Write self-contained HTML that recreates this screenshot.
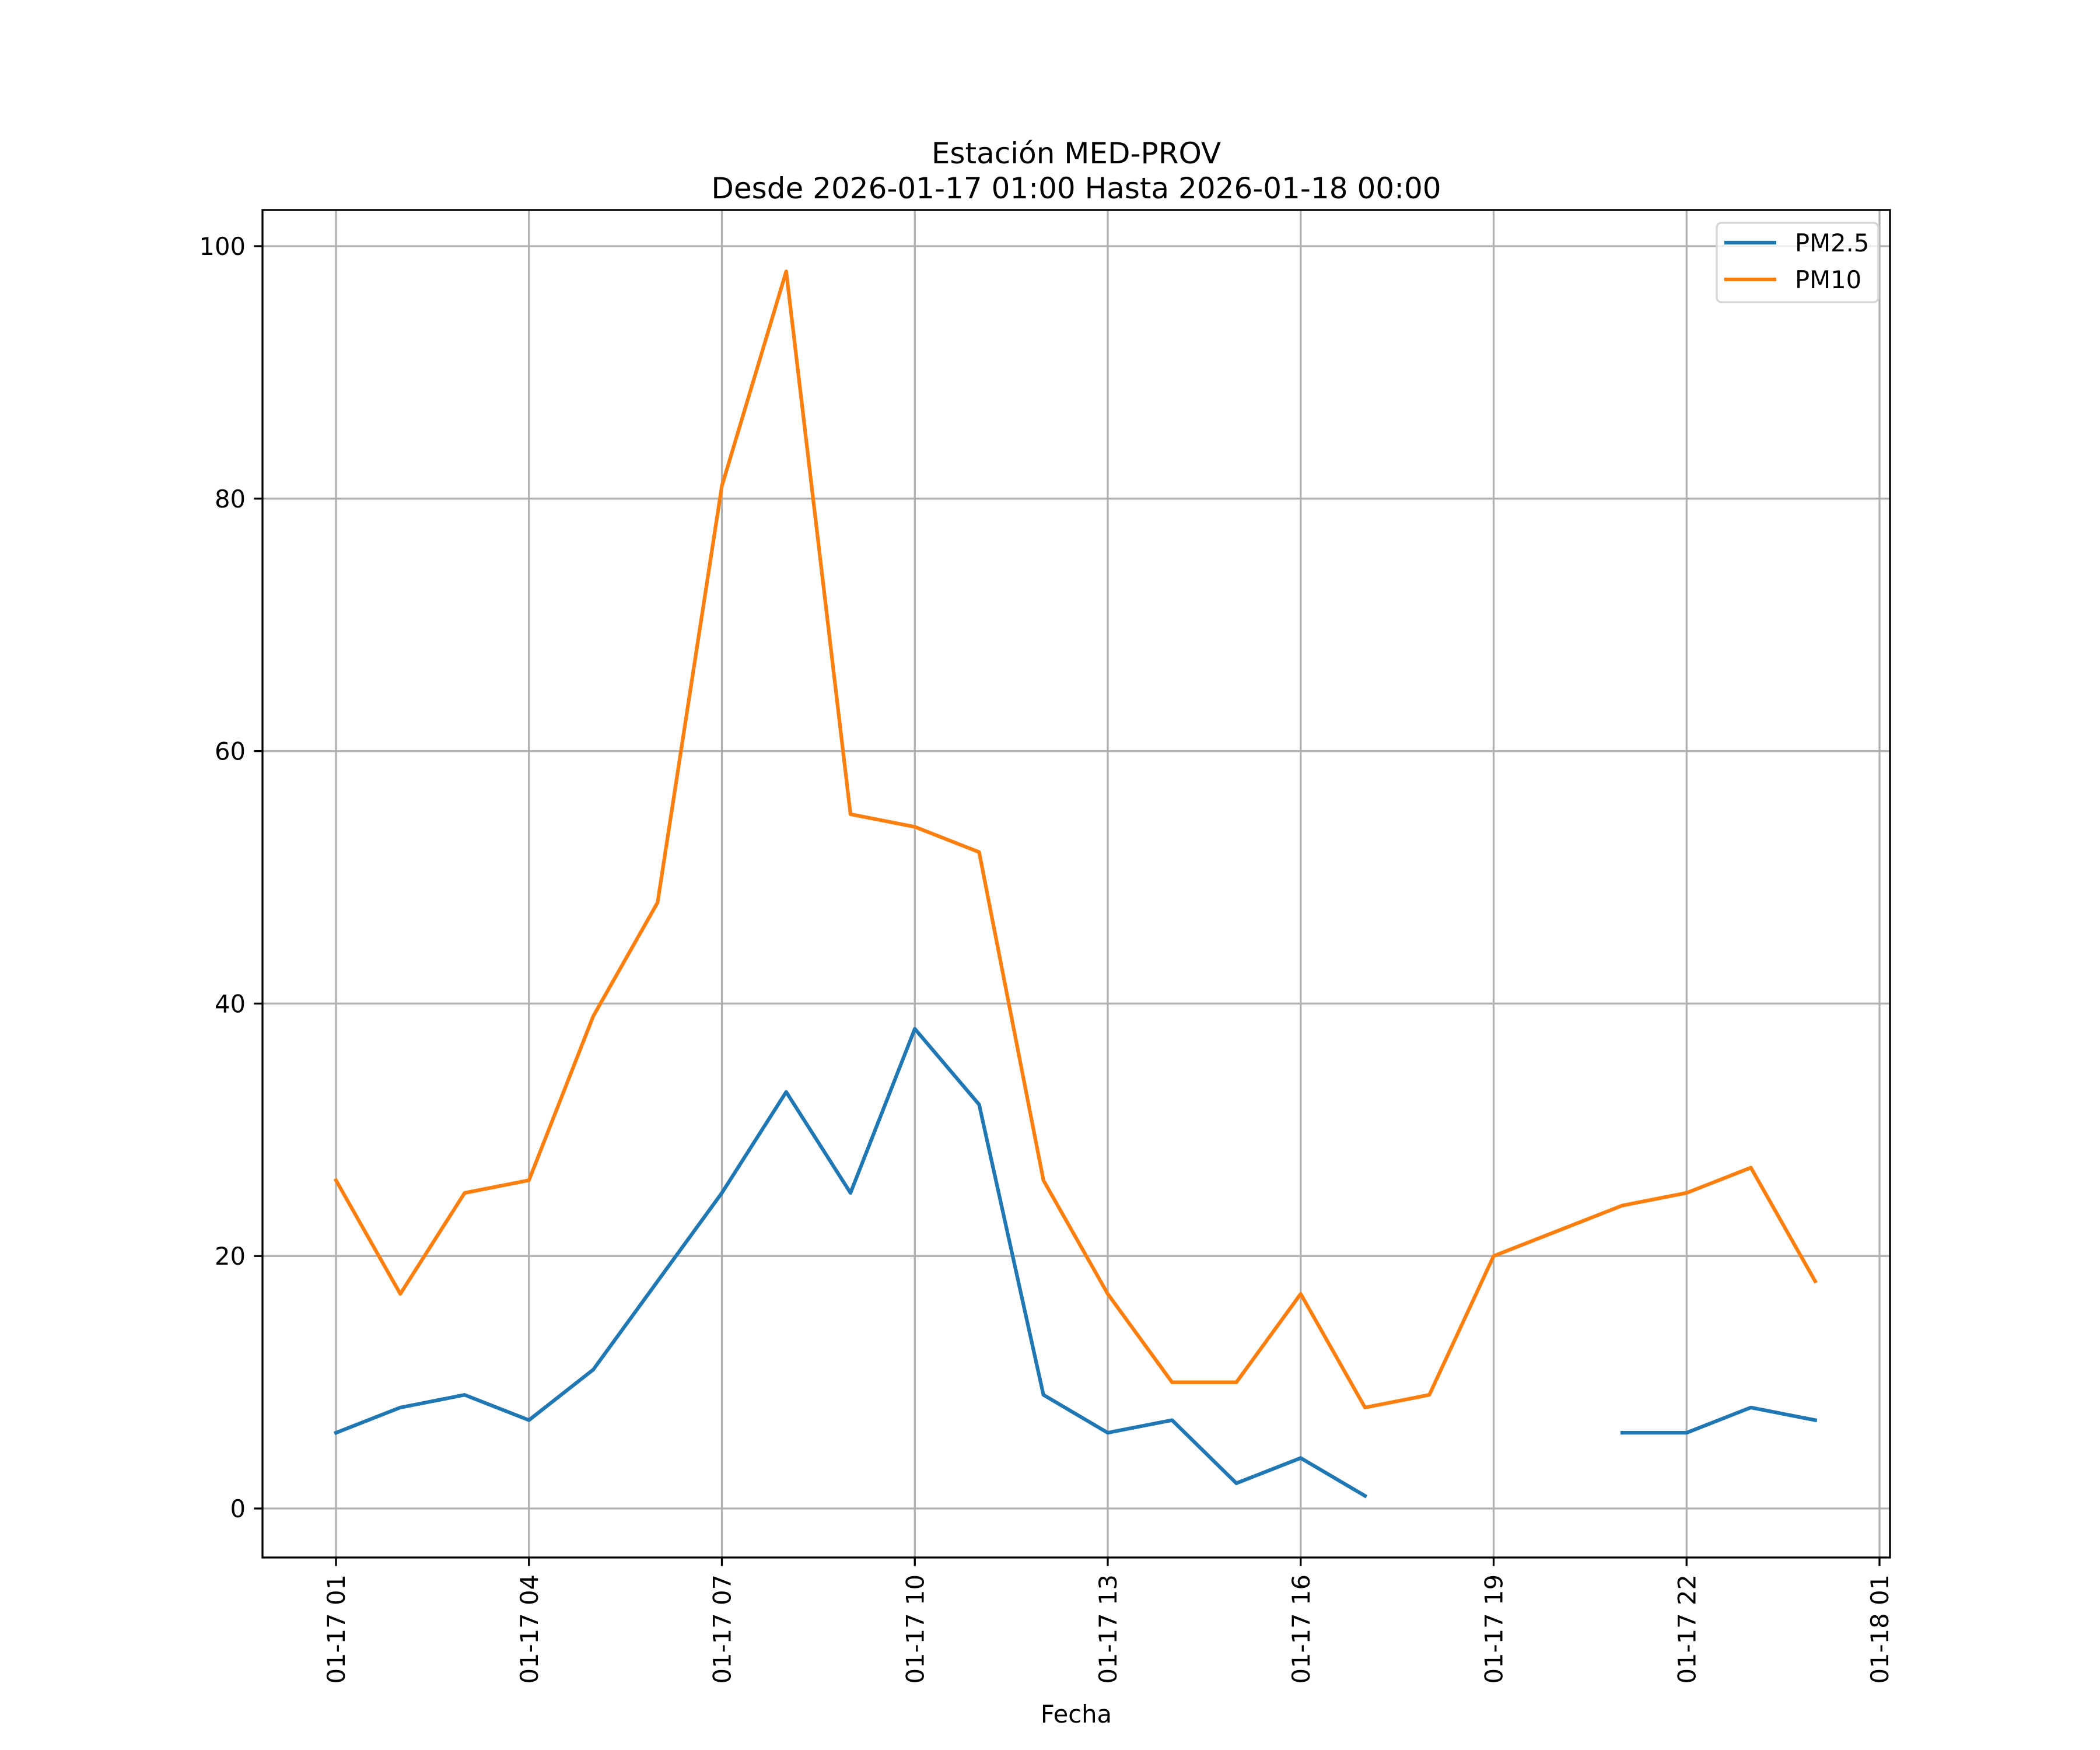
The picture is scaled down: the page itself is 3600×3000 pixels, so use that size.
<!DOCTYPE html>
<html><head><meta charset="utf-8"><style>
html,body{margin:0;padding:0;background:#fff}
svg{display:block}
text{font-family:"DejaVu Sans","Liberation Sans",sans-serif;fill:#000}
</style></head><body>
<svg id="chart" width="3600" height="3000" viewBox="0 0 3600 3000" xmlns="http://www.w3.org/2000/svg">
<rect width="3600" height="3000" fill="#fff"/>
<g id="grid"></g>
<g id="series"></g>
<rect x="450" y="360" width="2790" height="2310" fill="none" stroke="#000" stroke-width="3.3"/>
<g id="ticks"></g>
<text x="1845" y="280" font-size="50" text-anchor="middle">Estación MED-PROV</text>
<text x="1845" y="340" font-size="50" text-anchor="middle">Desde 2026-01-17 01:00 Hasta 2026-01-18 00:00</text>
<text x="1845" y="2953" font-size="41.7" text-anchor="middle">Fecha</text>
<g>
<rect x="2943" y="382" width="277" height="136" rx="8" fill="#fff" fill-opacity="0.8" stroke="#d5d5d5" stroke-width="3.3"/>
<line x1="2956" y1="416" x2="3045" y2="416" stroke="#1f77b4" stroke-width="6.25"/>
<text x="3077" y="431" font-size="41.7">PM2.5</text>
<line x1="2956" y1="479" x2="3045" y2="479" stroke="#ff7f0e" stroke-width="6.25"/>
<text x="3077" y="494" font-size="41.7">PM10</text>
</g>
</svg>
<script>
const hours = [1,2,3,4,5,6,7,8,9,10,11,12,13,14,15,16,17,18,19,20,21,22,23,24];
const pm25 = [6,8,9,7,11,18,25,33,25,38,32,9,6,7,2,4,1,null,null,null,6,6,8,7];
const pm10 = [26,17,25,26,39,48,81,98,55,54,52,26,17,10,10,17,8,9,20,22,24,25,27,18];
const yTicks = [0,20,40,60,80,100];
const xTickHours = [1,4,7,10,13,16,19,22,25];
const xTickLabels = ["01-17 01","01-17 04","01-17 07","01-17 10","01-17 13","01-17 16","01-17 19","01-17 22","01-18 01"];

const NS = "http://www.w3.org/2000/svg";
const X = h => 576 + (h - 1) * (3222 - 576) / 24;
const Y = v => 2586 - v * (2586 - 422) / 100;
function mk(tag, attrs, parent){const e=document.createElementNS(NS,tag);for(const k in attrs)e.setAttribute(k,attrs[k]);parent.appendChild(e);return e;}
const grid=document.getElementById('grid'), ticks=document.getElementById('ticks'), series=document.getElementById('series');

yTicks.forEach(v=>{
  const g=mk('line',{x1:450,x2:3240,y1:Y(v),y2:Y(v),stroke:'#b0b0b0','stroke-width':3.3},grid);
  
  
  const t=mk('line',{x1:435.4,x2:450,y1:Y(v),y2:Y(v),stroke:'#000','stroke-width':3.3},ticks);
  
  
  const l=mk('text',{x:421,y:Y(v)+15,'font-size':41.7,'text-anchor':'end'},ticks);
  l.textContent=v;
  
  
});
xTickHours.forEach((h,i)=>{
  const g=mk('line',{x1:X(h),x2:X(h),y1:360,y2:2670,stroke:'#b0b0b0','stroke-width':3.3},grid);
  
  
  const t=mk('line',{x1:X(h),x2:X(h),y1:2670,y2:2684.6,stroke:'#000','stroke-width':3.3},ticks);
  
  
  const l=mk('text',{x:0,y:0,'font-size':41.7,'text-anchor':'end',transform:`translate(${X(h)+15},2699) rotate(-90)`},ticks);
  l.textContent=xTickLabels[i];
  
  
});
function draw(vals,color,name){
  let segs=[],cur=[];
  vals.forEach((v,i)=>{ if(v===null){ if(cur.length)segs.push(cur); cur=[]; } else cur.push(X(hours[i])+','+Y(v)); });
  if(cur.length)segs.push(cur);
  segs.forEach(s=>{
    const p=mk('polyline',{points:s.join(' '),fill:'none',stroke:color,'stroke-width':6.25,'stroke-linejoin':'round','stroke-linecap':'square'},series);
    
    
  });
}
draw(pm25,'#1f77b4','pm25-line');
draw(pm10,'#ff7f0e','pm10-line');
</script>
</body></html>
